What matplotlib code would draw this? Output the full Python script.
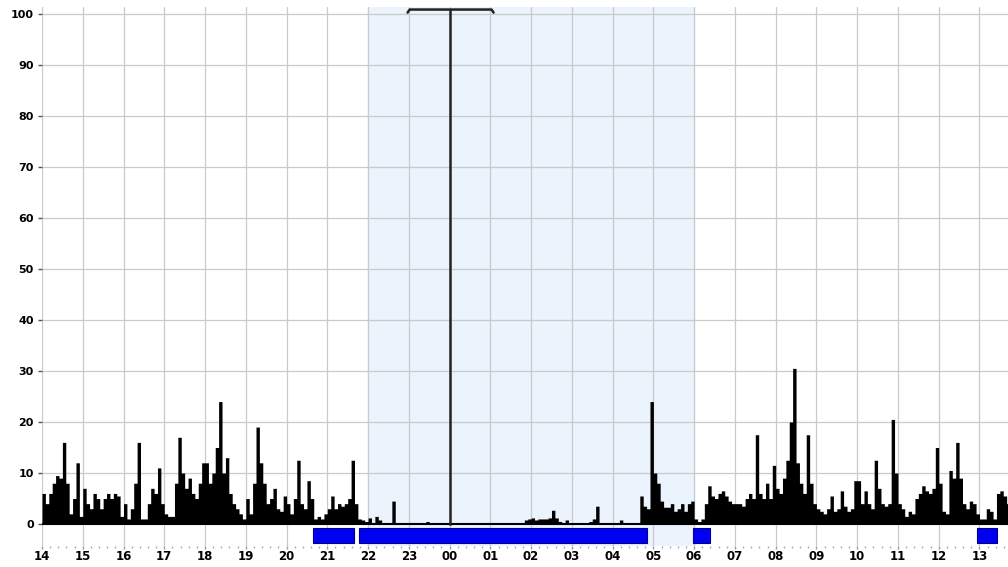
import numpy as np
import matplotlib
matplotlib.use("Agg")
import matplotlib.pyplot as plt
from matplotlib.ticker import MultipleLocator

# activity counts, 5-minute bins, starting 14:00
afternoon = [
    6, 4, 6, 8, 9.5, 9, 16, 8, 2, 5, 12, 1.5,          # 14
    7, 4, 3, 6, 5, 3, 5, 6, 5, 6, 5.5, 1.5,            # 15
    4, 1, 3, 8, 16, 1, 1, 4, 7, 6, 11, 4,              # 16
    2, 1.5, 1.5, 8, 17, 10, 7, 9, 6, 5, 8, 12,         # 17
    12, 8, 10, 15, 24, 10, 13, 6, 4, 3, 2, 1,          # 18
    5, 2, 8, 19, 12, 8, 4, 5, 7, 3, 2.5, 5.5,          # 19
    4, 2, 5, 12.5, 4, 3, 8.5, 5, 1, 1.5, 1, 2,         # 20
    3, 5.5, 3, 4, 3.5, 4, 5, 12.5, 4, 1, 0.8, 0.5,     # 21
]
night = [
    1.2, 0.3, 1.5, 0.8, 0.3, 0.3, 0.3, 4.5, 0.3, 0.2, 0.2, 0.2,   # 22
    0.2, 0.2, 0.2, 0.2, 0.2, 0.5, 0.2, 0.2, 0.2, 0.2, 0.2, 0.2,   # 23
    0.2, 0.2, 0.2, 0.2, 0.2, 0.2, 0.2, 0.2, 0.2, 0.2, 0.2, 0.2,   # 00
    0.2, 0.2, 0.2, 0.2, 0.2, 0.2, 0.2, 0.2, 0.2, 0.2, 0.8, 1.0,   # 01
    1.2, 0.8, 1, 1, 1, 1.2, 2.7, 1.2, 0.5, 0.3, 0.8, 0.3,         # 02
    0.3, 0.2, 0.2, 0.2, 0.3, 0.5, 1, 3.5, 0.3, 0.2, 0.2, 0.3,     # 03
    0.2, 0.2, 0.8, 0.2, 0.2, 0.2, 0.3, 0.2, 5.5, 3.5, 3, 24,      # 04
    10, 8, 4.5, 3.3, 3.3, 4, 2.5, 3, 4, 2.5, 4, 4.5,              # 05
]
morning = [
    1, 0.5, 1, 4, 7.5, 5.5, 5, 6, 6.5, 5.5, 4.5, 4,          # 06
    4, 4, 3.5, 5, 6, 5, 17.5, 6, 5, 8, 5, 11.5,              # 07
    7, 6, 9, 12.5, 20, 30.5, 12, 8, 6, 17.5, 8, 4,           # 08
    3, 2.5, 2, 3, 5.5, 2.5, 3, 6.5, 3.5, 2.5, 3, 8.5,        # 09
    8.5, 4, 6.5, 4, 3, 12.5, 7, 4, 3.5, 4, 20.5, 10,         # 10
    4, 3, 1.5, 2.5, 2, 5, 6, 7.5, 6.5, 6, 7, 15,             # 11
    8, 2.5, 2, 10.5, 9, 16, 9, 4, 3, 4.5, 4, 2,              # 12
    1, 1, 3, 2.5, 1, 6, 6.5, 5.5, 4,                         # 13
]
hour_labels = ['14', '15', '16', '17', '18', '19', '20', '21', '22', '23', '00',
               '01', '02', '03', '04', '05', '06', '07', '08', '09', '10', '11',
               '12', '13']
# sleep periods in hours after 14:00
sleep_start = [6.65, 7.78, 15.98, 22.94]
sleep_end = [7.66, 14.85, 16.39, 23.44]
night_start, night_end = 8, 16     # 22:00 - 06:00
marker_hour = 10                   # 00:00

activity = np.array(afternoon + night + morning)
t = np.arange(len(activity) + 1) * 5 / 60
vals = np.append(activity, activity[-1])

fig = plt.figure(figsize=(10.08, 5.67), dpi=100)
ax = fig.add_axes([42 / 1008, 1 - 545.5 / 567, 966 / 1008, 538.5 / 567])
ax.set_xlim(0, 23.7)
ax.set_ylim(-4.2, 101.3)

ax.axvspan(night_start, night_end, color='#ebf3fc', zorder=0)
for y in range(10, 101, 10):
    ax.axhline(y, color='#cacaca', lw=0.9, zorder=1)
for h in range(24):
    ax.axvline(h, color='#cacaca', lw=0.9, zorder=1)

ax.fill_between(t, vals, step='post', color='black', lw=0, zorder=3)
ax.axhline(0, color='black', lw=1.5, zorder=3)

# event marker at midnight
ax.plot([marker_hour, marker_hour], [0, 100.8], color='#222222', lw=1.8, zorder=4)
ax.plot([marker_hour - 1.03, marker_hour - 0.98, marker_hour + 1.03, marker_hour + 1.08],
        [100.2, 100.8, 100.8, 100.2], color='#222222', lw=1.8, zorder=4,
        solid_capstyle='round', clip_on=False)

for s, e in zip(sleep_start, sleep_end):
    ax.bar(s, -2.9, width=e - s, bottom=-0.8, align='edge', color='#0000f0',
           edgecolor='#000090', lw=0.8, zorder=4)

for sp in ax.spines.values():
    sp.set_visible(False)

ax.set_yticks(range(0, 101, 10))
ax.set_yticklabels([str(v) for v in range(0, 101, 10)], fontsize=8, fontweight='bold')
ax.set_xticks(range(24))
ax.set_xticklabels(hour_labels, fontsize=8.5, fontweight='bold')
ax.xaxis.set_minor_locator(MultipleLocator(0.2))
ax.tick_params(axis='y', length=3, width=1, color='#555555', pad=3)
ax.tick_params(axis='x', which='major', length=2, width=1, color='#999999', pad=1)
ax.tick_params(axis='x', which='minor', length=1.5, width=1, color='#aaaaaa')

fig.savefig('out.png', dpi=100)
